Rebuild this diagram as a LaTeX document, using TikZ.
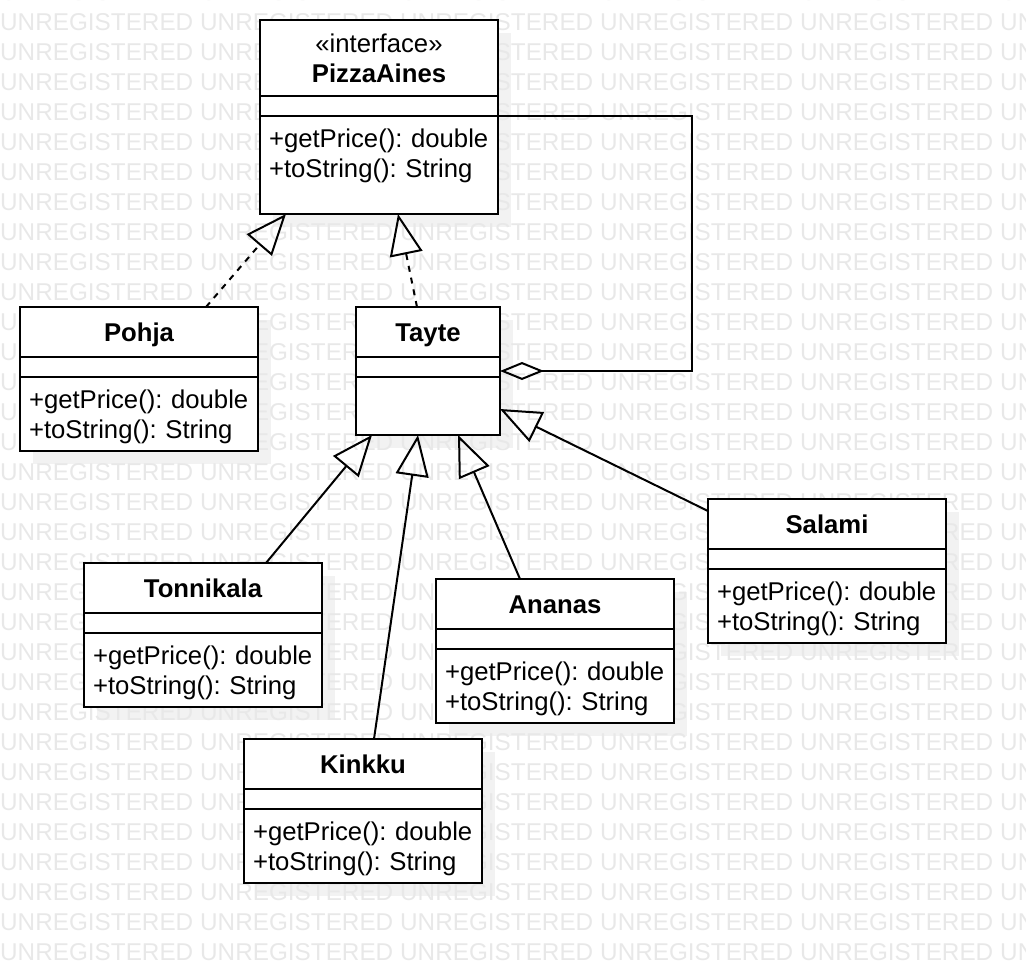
\documentclass[tikz,border=0pt]{standalone}
\usepackage{fontspec}
\setmainfont{Liberation Sans}
\usetikzlibrary{positioning,arrows.meta,backgrounds}

\newcommand{\umlsize}{\fontsize{25.7pt}{30pt}\selectfont}
\newcommand{\marksize}{\fontsize{24.3pt}{30pt}\selectfont}

\begin{document}
\begin{tikzpicture}[classname/.style={rectangle, draw, fill=white, line width=2pt, outer sep=0pt, inner sep=0pt, minimum width=238pt, minimum height=50pt, text height=18.4pt, text depth=0pt, align=center, font=\umlsize\bfseries},attrbox/.style={rectangle, draw, fill=white, line width=2pt, outer sep=0pt, inner sep=0pt, minimum width=238pt, minimum height=20pt},opsbox/.style={rectangle, draw, fill=white, line width=2pt, outer sep=0pt, inner xsep=9pt, inner ysep=0pt, text width=220pt, minimum height=74pt, align=left, font=\umlsize, execute at begin node={\rule{0pt}{24.7pt}}},watermark/.style={anchor=base west, inner sep=0pt, text=black!9, font=\marksize},shade/.style={fill=black!5},realize/.style={line width=2pt, dash pattern=on 6pt off 6pt, -{Triangle[open, length=41pt, width=33pt]}},extends/.style={line width=2pt, -{Triangle[open, length=41pt, width=33pt]}},aggregate/.style={line width=2pt, -{Diamond[open, length=44pt, width=18pt]}}]
                \useasboundingbox (0,0) rectangle (1026pt,-964pt);
                % watermark
                \begin{scope}
                \clip (0,0) rectangle (1026pt,-964pt);
                \foreach \row in {0,...,32}
                    \foreach \col in {0,...,5}
                        \node[watermark] (mark_\row_\col) at (\col*200pt, -\row*30pt) {UNREGISTERED};
                \end{scope}
                % interface
                \node[classname, anchor=north, minimum height=76pt, text height=, text depth=] (aines) at (379pt,-20pt) {{\mdseries «interface»}\\PizzaAines};
                \node[attrbox, below=0pt of aines] (aines_attr) {};
                \node[opsbox, below=0pt of aines_attr, minimum height=98pt] (aines_ops) {+getPrice():~double\\+toString():~String\\\mbox{}};
                % classes
                \node[classname, below=93pt of aines_ops, xshift=-240pt] (pohja) {Pohja};
                \node[attrbox, below=0pt of pohja] (pohja_attr) {};
                \node[opsbox, below=0pt of pohja_attr] (pohja_ops) {+getPrice():~double\\+toString():~String};
                \node[classname, right=98pt of pohja, minimum width=144pt] (tayte) {Tayte};
                \node[attrbox, below=0pt of tayte, minimum width=144pt] (tayte_attr) {};
                \node[attrbox, below=0pt of tayte_attr, minimum width=144pt, minimum height=58pt] (tayte_ops) {};
                \node[classname, below=112pt of pohja_ops, xshift=64pt] (tonnikala) {Tonnikala};
                \node[attrbox, below=0pt of tonnikala] (tonnikala_attr) {};
                \node[opsbox, below=0pt of tonnikala_attr] (tonnikala_ops) {+getPrice():~double\\+toString():~String};
                \node[classname, below=32pt of tonnikala_ops, xshift=160pt] (kinkku) {Kinkku};
                \node[attrbox, below=0pt of kinkku] (kinkku_attr) {};
                \node[opsbox, below=0pt of kinkku_attr] (kinkku_ops) {+getPrice():~double\\+toString():~String};
                \node[classname, below=144pt of tayte_ops, xshift=127pt] (ananas) {Ananas};
                \node[attrbox, below=0pt of ananas] (ananas_attr) {};
                \node[opsbox, below=0pt of ananas_attr] (ananas_ops) {+getPrice():~double\\+toString():~String};
                \node[classname, below=64pt of tayte_ops, xshift=399pt] (salami) {Salami};
                \node[attrbox, below=0pt of salami] (salami_attr) {};
                \node[opsbox, below=0pt of salami_attr] (salami_ops) {+getPrice():~double\\+toString():~String};
                % shadows
                \begin{scope}[on background layer]
                \foreach \cls in {aines,pohja,tayte,tonnikala,ananas,salami,kinkku}
                    \fill[shade] ([shift={(13pt,-13pt)}]\cls.north west) rectangle ([shift={(13pt,-13pt)}]\cls_ops.south east);
                \end{scope}
                % relations
                \draw[realize] ([xshift=67pt]pohja.north) -- ([xshift=-93pt]aines_ops.south);
                \draw[realize] ([xshift=-11pt]tayte.north) -- ([xshift=19pt]aines_ops.south);
                \coordinate[right=192pt of tayte_attr.east, yshift=-4pt] (agg_corner);
                \draw[aggregate] (aines_ops.north east) -| (agg_corner) -- ([yshift=-4pt]tayte_attr.east);
                \draw[extends] ([xshift=63pt]tonnikala.north) -- ([xshift=-56pt]tayte_ops.south);
                \draw[extends] ([xshift=11pt]kinkku.north) -- ([xshift=-10pt]tayte_ops.south);
                \draw[extends] ([xshift=-35pt]ananas.north) -- ([xshift=30pt]tayte_ops.south);
                \draw[extends] ([yshift=13pt]salami.west) -- ([yshift=-3pt]tayte_ops.east);
            \end{tikzpicture}
\end{document}
